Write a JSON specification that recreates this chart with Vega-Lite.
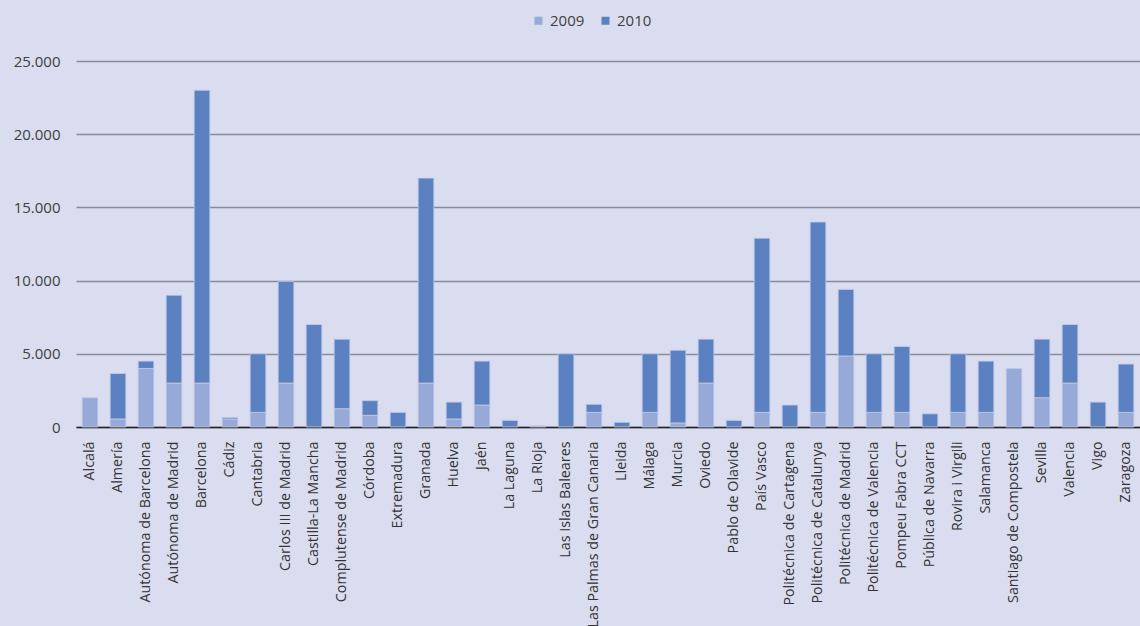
{
  "$schema": "https://vega.github.io/schema/vega-lite/v6.json",
  "width": 1064,
  "height": 366,
  "autosize": {"type": "none"},
  "padding": {"left": 76, "top": 61, "right": 0, "bottom": 199},
  "background": "#d9ddef",
  "config": {
    "view": {"stroke": null},
    "font": "Open Sans"
  },
  "data": {
    "values": [
      {"u": "Alcalá", "year": "2009", "v": 2000},
      {"u": "Almería", "year": "2009", "v": 550}, {"u": "Almería", "year": "2010", "v": 3100},
      {"u": "Autónoma de Barcelona", "year": "2009", "v": 4000}, {"u": "Autónoma de Barcelona", "year": "2010", "v": 500},
      {"u": "Autónoma de Madrid", "year": "2009", "v": 3000}, {"u": "Autónoma de Madrid", "year": "2010", "v": 6000},
      {"u": "Barcelona", "year": "2009", "v": 3000}, {"u": "Barcelona", "year": "2010", "v": 20000},
      {"u": "Cádiz", "year": "2009", "v": 550}, {"u": "Cádiz", "year": "2010", "v": 100},
      {"u": "Cantabria", "year": "2009", "v": 1000}, {"u": "Cantabria", "year": "2010", "v": 4000},
      {"u": "Carlos III de Madrid", "year": "2009", "v": 3000}, {"u": "Carlos III de Madrid", "year": "2010", "v": 6950},
      {"u": "Castilla-La Mancha", "year": "2010", "v": 7000},
      {"u": "Complutense de Madrid", "year": "2009", "v": 1250}, {"u": "Complutense de Madrid", "year": "2010", "v": 4750},
      {"u": "Córdoba", "year": "2009", "v": 800}, {"u": "Córdoba", "year": "2010", "v": 1000},
      {"u": "Extremadura", "year": "2010", "v": 1000},
      {"u": "Granada", "year": "2009", "v": 3000}, {"u": "Granada", "year": "2010", "v": 14000},
      {"u": "Huelva", "year": "2009", "v": 550}, {"u": "Huelva", "year": "2010", "v": 1150},
      {"u": "Jaén", "year": "2009", "v": 1500}, {"u": "Jaén", "year": "2010", "v": 3000},
      {"u": "La Laguna", "year": "2010", "v": 450},
      {"u": "La Rioja", "year": "2009", "v": 80},
      {"u": "Las Islas Baleares", "year": "2010", "v": 5000},
      {"u": "Las Palmas de Gran Canaria", "year": "2009", "v": 1000}, {"u": "Las Palmas de Gran Canaria", "year": "2010", "v": 550},
      {"u": "Lleida", "year": "2010", "v": 320},
      {"u": "Málaga", "year": "2009", "v": 1000}, {"u": "Málaga", "year": "2010", "v": 4000},
      {"u": "Murcia", "year": "2009", "v": 280}, {"u": "Murcia", "year": "2010", "v": 4960},
      {"u": "Oviedo", "year": "2009", "v": 3000}, {"u": "Oviedo", "year": "2010", "v": 3000},
      {"u": "Pablo de Olavide", "year": "2010", "v": 450},
      {"u": "País Vasco", "year": "2009", "v": 1000}, {"u": "País Vasco", "year": "2010", "v": 11900},
      {"u": "Politécnica de Cartagena", "year": "2010", "v": 1500},
      {"u": "Politécnica de Catalunya", "year": "2009", "v": 1000}, {"u": "Politécnica de Catalunya", "year": "2010", "v": 13000},
      {"u": "Politécnica de Madrid", "year": "2009", "v": 4850}, {"u": "Politécnica de Madrid", "year": "2010", "v": 4550},
      {"u": "Politécnica de Valencia", "year": "2009", "v": 1000}, {"u": "Politécnica de Valencia", "year": "2010", "v": 4000},
      {"u": "Pompeu Fabra CCT", "year": "2009", "v": 1000}, {"u": "Pompeu Fabra CCT", "year": "2010", "v": 4500},
      {"u": "Pública de Navarra", "year": "2010", "v": 900},
      {"u": "Rovira i Virgili", "year": "2009", "v": 1000}, {"u": "Rovira i Virgili", "year": "2010", "v": 4000},
      {"u": "Salamanca", "year": "2009", "v": 1000}, {"u": "Salamanca", "year": "2010", "v": 3500},
      {"u": "Santiago de Compostela", "year": "2009", "v": 4000},
      {"u": "Sevilla", "year": "2009", "v": 2000}, {"u": "Sevilla", "year": "2010", "v": 4000},
      {"u": "Valencia", "year": "2009", "v": 3000}, {"u": "Valencia", "year": "2010", "v": 4000},
      {"u": "Vigo", "year": "2010", "v": 1700},
      {"u": "Zaragoza", "year": "2009", "v": 1000}, {"u": "Zaragoza", "year": "2010", "v": 3300}
    ]
  },
  "mark": {"type": "bar", "stroke": "#c3cbe8", "strokeWidth": 0.8},
  "encoding": {
    "x": {
      "field": "u",
      "type": "nominal",
      "sort": null,
      "scale": {"paddingInner": 0.44, "paddingOuter": 0.22},
      "axis": {
        "title": null,
        "labelAngle": -90,
        "labelAlign": "right",
        "labelBaseline": "middle",
        "labelFontSize": 14.3,
        "labelColor": "#333333",
        "labelPadding": 14,
        "ticks": false,
        "domainColor": "#222222",
        "domainWidth": 1.5,
        "labelOverlap": false,
        "labelLimit": 400
      }
    },
    "y": {
      "field": "v",
      "type": "quantitative",
      "stack": "zero",
      "scale": {"domain": [0, 25000], "nice": false},
      "axis": {
        "title": null,
        "values": [0, 5000, 10000, 15000, 20000, 25000],
        "labelExpr": "replace(format(datum.value, ','), ',', '.')",
        "labelFontSize": 15,
        "labelColor": "#404040",
        "labelPadding": 16,
        "ticks": false,
        "domain": false,
        "gridColor": "#8a8b98",
        "gridWidth": 1.3
      }
    },
    "color": {
      "field": "year",
      "type": "nominal",
      "scale": {"domain": ["2009", "2010"], "range": ["#96a9d7", "#5b81c1"]},
      "legend": {
        "title": null,
        "orient": "none",
        "direction": "horizontal",
        "legendX": 455,
        "legendY": -48,
        "symbolType": "square",
        "symbolSize": 64,
        "symbolStrokeWidth": 0,
        "labelFontSize": 15,
        "labelColor": "#404040",
        "labelOffset": 4,
        "columnPadding": 13
      }
    },
    "order": {"field": "year", "type": "nominal", "sort": "ascending"}
  }
}
